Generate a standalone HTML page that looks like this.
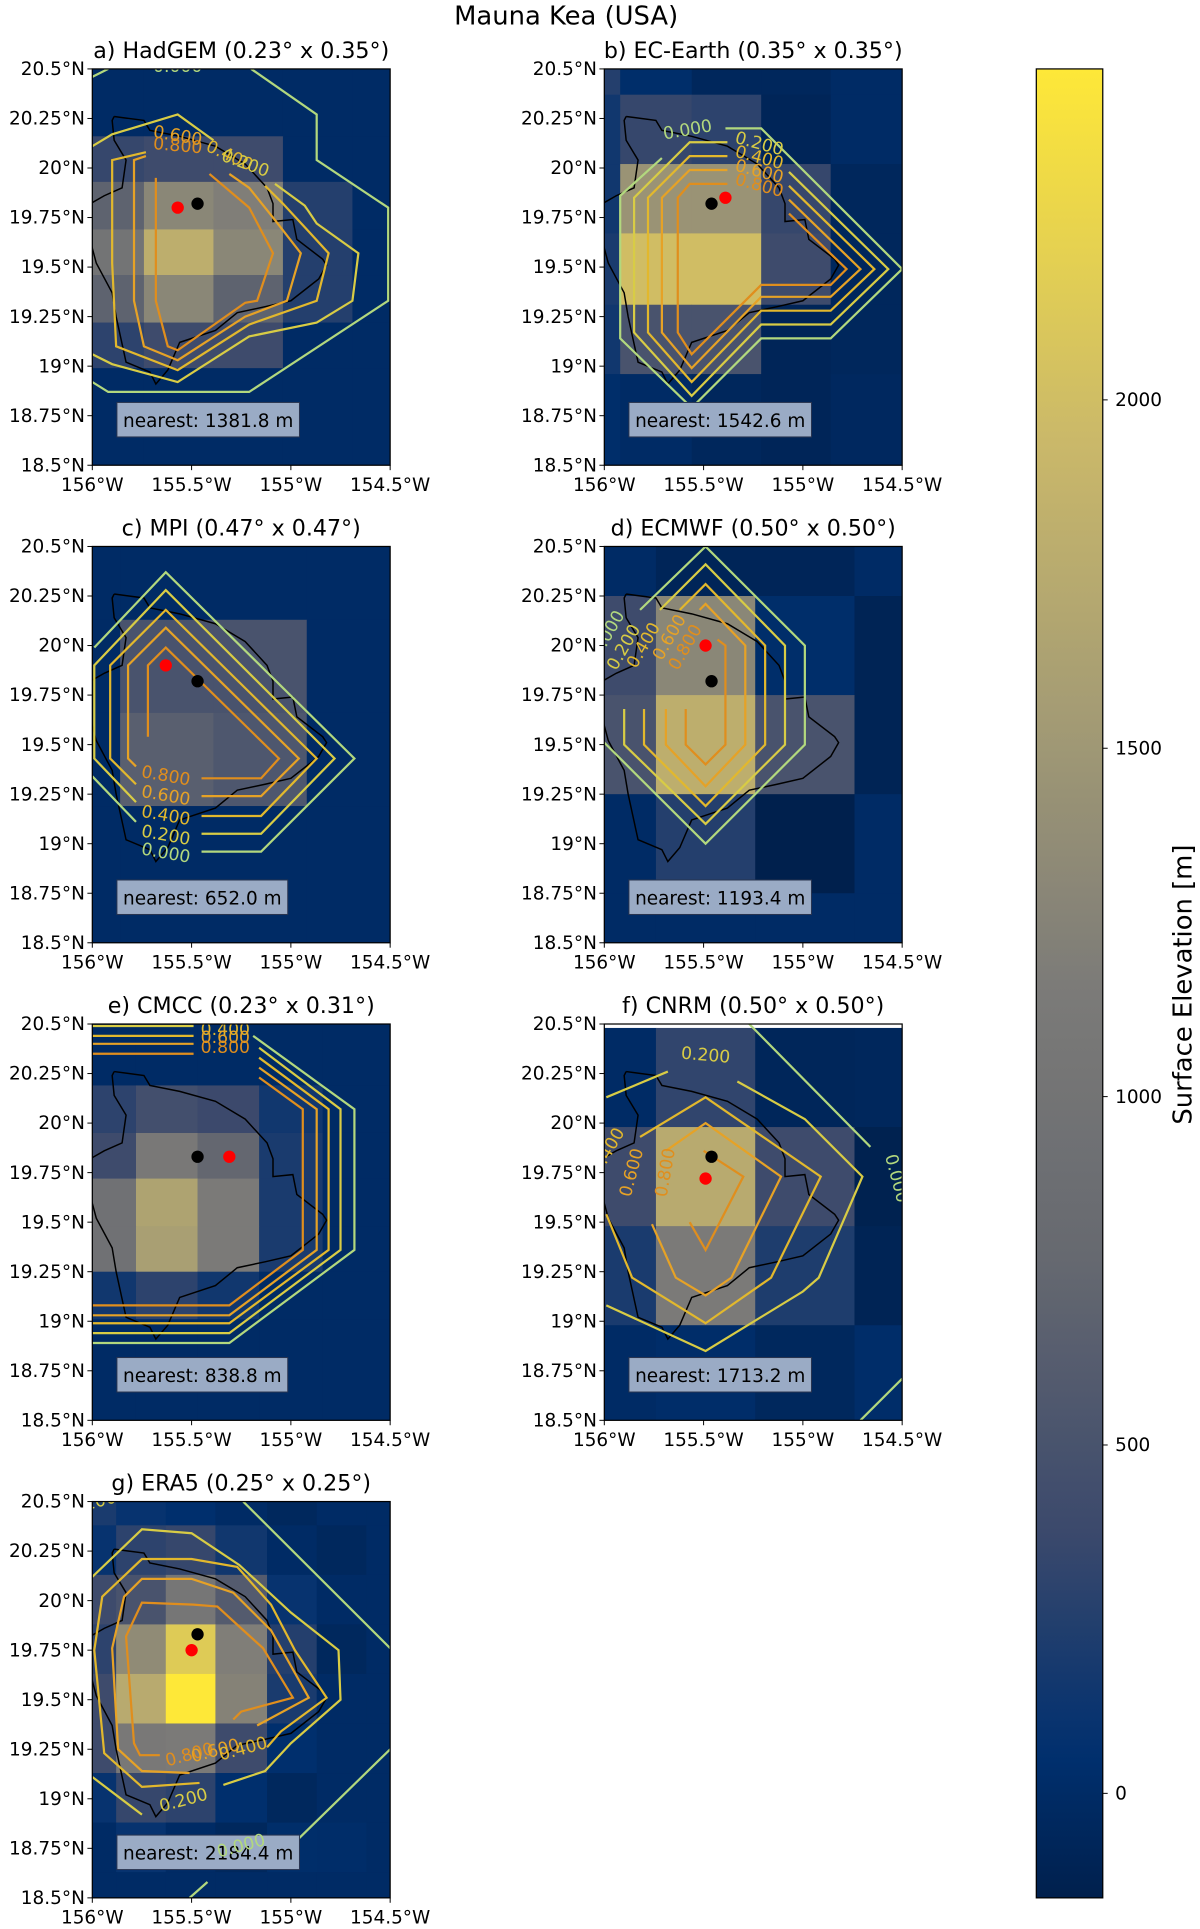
<!DOCTYPE html>
<html><head><meta charset="utf-8"><style>
html,body{margin:0;padding:0;background:#fff;}
svg{display:block;font-family:"DejaVu Sans","Liberation Sans",sans-serif;}
</style></head><body>
<svg id="fig" xmlns="http://www.w3.org/2000/svg" width="1200" height="1929" viewBox="0 0 975 1567.3" preserveAspectRatio="none">
<text x="460" y="20" font-size="21" text-anchor="middle">Mauna Kea (USA)</text>
</svg>
<script>
// ---- data ----
const latTicks = [20.5,20.25,20,19.75,19.5,19.25,19,18.75,18.5];
const latTickLabels = ['20.5°N','20.25°N','20°N','19.75°N','19.5°N','19.25°N','19°N','18.75°N','18.5°N'];
const lonTicks = [-156,-155.5,-155,-154.5];
const lonTickLabels = ['156°W','155.5°W','155°W','154.5°W'];
const cbarTicks = [0,500,1000,1500,2000];
const cbarMin = -150, cbarMax = 2475;
const contourLevels = [0,0.2,0.4,0.6,0.8];
const levelColors = ['#b2d87e','#d8cc45','#e2b82d','#e6a226','#e08e1d'];
const coast = [[-155.89,20.26],[-155.74,20.24],[-155.71,20.19],[-155.56,20.16],[-155.38,20.11],[-155.23,20.02],[-155.12,19.90],[-155.09,19.82],[-155.09,19.73],[-154.99,19.74],[-154.97,19.64],[-154.84,19.54],[-154.82,19.51],[-154.86,19.44],[-155.0,19.33],[-155.13,19.30],[-155.27,19.27],[-155.38,19.18],[-155.56,19.12],[-155.62,18.98],[-155.68,18.91],[-155.71,18.97],[-155.83,19.02],[-155.88,19.25],[-155.90,19.37],[-155.98,19.52],[-156.02,19.67],[-156.01,19.82],[-155.94,19.86],[-155.85,19.90],[-155.83,20.04],[-155.89,20.14],[-155.90,20.24],[-155.89,20.26]];

const hadgemLon = [-156,-155.74,-155.39,-155.04,-154.69,-154.5];
const hadgemLat = [20.5,20.16,19.93,19.69,19.46,19.22,18.99,18.5];
const hadgemElev = [[0,0,0,0,0],[350,400,400,0,0],[700,1300,1200,250,0],[1000,1800,1300,250,0],[700,1300,700,250,0],[300,400,400,0,0],[0,0,0,0,0]];
const hadgemContours = [
 [0,[[-156,20.46],[-155.92,20.5]]],
 [0,[[-155.20,20.5],[-154.87,20.27],[-154.87,20.04],[-154.51,19.80],[-154.51,19.33],[-155.21,18.87],[-155.92,18.87],[-156,18.92]]],
 [1,[[-156,20.11],[-155.90,20.17],[-155.57,20.27],[-155.39,20.14]]],
 [1,[[-155.08,19.92],[-154.93,19.81],[-154.87,19.72],[-154.66,19.57],[-154.69,19.33],[-154.87,19.22],[-155.21,19.15],[-155.57,18.92],[-155.90,19.01],[-156,19.06]]],
 [2,[[-155.73,20.08],[-155.90,20.04],[-155.90,19.52],[-155.88,19.10],[-155.57,18.98],[-155.21,19.21],[-154.87,19.33],[-154.81,19.57],[-154.92,19.69],[-155.04,19.82],[-155.13,19.91]]],
 [3,[[-155.73,20.06],[-155.79,20.04],[-155.79,19.33],[-155.74,19.10],[-155.57,19.03],[-155.23,19.25],[-155.02,19.33],[-154.95,19.57],[-155.09,19.75],[-155.21,19.90],[-155.31,19.97]]],
 [4,[[-155.68,19.95],[-155.68,19.33],[-155.62,19.10],[-155.57,19.08],[-155.23,19.32],[-155.17,19.33],[-155.09,19.57],[-155.21,19.80],[-155.41,19.97]]]];
const hadgemLabels = [[0,-155.57,20.51,0],[3,-155.57,20.16,10],[4,-155.57,20.11,5],[2,-155.31,20.06,25],[1,-155.23,20.02,20]];

const ecLon = [-156,-155.92,-155.56,-155.21,-154.86,-154.5];
const ecLat = [20.5,20.37,20.02,19.67,19.31,18.96,18.5];
const ecElev = [[250,30,-60,-60,0],[150,350,300,-80,0],[150,1450,1450,350,-60],[200,2000,2000,400,-60],[150,500,500,-80,-60],[30,0,-60,-80,-40]];
const ecContours = [
 [0,[[-155.39,20.20],[-155.21,20.20],[-154.50,19.49],[-154.86,19.14],[-155.21,19.14],[-155.56,18.79],[-155.92,19.14],[-155.92,19.86],[-155.71,20.05]]],
 [1,[[-155.38,20.13],[-155.57,20.13],[-155.85,19.85],[-155.85,19.17],[-155.56,18.85],[-155.21,19.21],[-154.86,19.21],[-154.57,19.49],[-155.07,19.98]]],
 [2,[[-155.38,20.06],[-155.57,20.06],[-155.78,19.85],[-155.78,19.17],[-155.56,18.92],[-155.21,19.28],[-154.86,19.28],[-154.64,19.49],[-155.07,19.91]]],
 [3,[[-155.38,19.99],[-155.57,19.99],[-155.71,19.85],[-155.71,19.17],[-155.56,18.99],[-155.21,19.35],[-154.86,19.35],[-154.71,19.49],[-155.07,19.84]]],
 [4,[[-155.38,19.92],[-155.57,19.92],[-155.63,19.85],[-155.63,19.17],[-155.56,19.06],[-155.21,19.41],[-154.86,19.41],[-154.78,19.49],[-155.07,19.77]]]];
const ecLabels = [[0,-155.58,20.19,-10],[1,-155.22,20.12,15],[2,-155.22,20.05,15],[3,-155.22,19.98,15],[4,-155.22,19.91,15]];

const mpiLon = [-156,-155.86,-155.39,-154.92,-154.5];
const mpiLat = [20.5,20.13,19.66,19.19,18.5];
const mpiElev = [[0,0,0,0],[0,500,500,0],[0,650,550,0],[0,0,0,0]];
const mpiContours = [
 [0,[[-155.99,19.99],[-155.63,20.37],[-154.68,19.43],[-155.15,18.96],[-155.45,18.96]]],
 [0,[[-156,19.34],[-155.78,19.11]]],
 [1,[[-155.78,19.21],[-155.99,19.43],[-155.99,19.90],[-155.63,20.28],[-154.78,19.43],[-155.15,19.05],[-155.45,19.05]]],
 [2,[[-155.78,19.30],[-155.91,19.43],[-155.91,19.90],[-155.63,20.18],[-154.87,19.43],[-155.15,19.14],[-155.45,19.14]]],
 [3,[[-155.78,19.39],[-155.82,19.43],[-155.82,19.90],[-155.63,20.09],[-154.96,19.43],[-155.15,19.24],[-155.45,19.24]]],
 [4,[[-155.72,19.54],[-155.72,19.90],[-155.63,19.99],[-155.06,19.43],[-155.15,19.33],[-155.45,19.33]]]];
const mpiLabels = [[4,-155.63,19.34,10],[3,-155.63,19.24,10],[2,-155.63,19.14,10],[1,-155.63,19.04,10],[0,-155.63,18.95,10]];

const ecmwfLon = [-156,-155.74,-155.24,-154.74,-154.5];
const ecmwfLat = [20.5,20.25,19.75,19.25,18.75,18.5];
const ecmwfElev = [[0,-80,-80,0],[400,1300,30,-100],[500,1800,500,-100],[0,250,-150,0],[0,0,0,0]];
const ecmwfContours = [
 [0,[[-155.82,20.18],[-155.49,20.5],[-154.99,20.0],[-154.99,19.50],[-155.49,19.00],[-155.99,19.50],[-156.05,19.56]]],
 [1,[[-155.72,20.18],[-155.49,20.41],[-155.09,20.0],[-155.09,19.50],[-155.49,19.10],[-155.90,19.50],[-155.90,19.68]]],
 [2,[[-155.62,20.18],[-155.49,20.31],[-155.19,20.0],[-155.19,19.50],[-155.49,19.19],[-155.80,19.50],[-155.80,19.68]]],
 [3,[[-155.52,20.18],[-155.49,20.21],[-155.29,20.0],[-155.29,19.50],[-155.49,19.29],[-155.69,19.50],[-155.69,19.68]]],
 [4,[[-155.43,20.03],[-155.39,20.0],[-155.39,19.50],[-155.49,19.40],[-155.59,19.50],[-155.59,19.68]]]];
const ecmwfLabels = [[0,-155.98,20.06,-60],[1,-155.90,19.99,-60],[2,-155.80,20.0,-60],[3,-155.67,20.04,-60],[4,-155.59,19.99,-60]];

const cmccLon = [-156,-155.78,-155.47,-155.16,-154.84,-154.5];
const cmccLat = [20.5,20.19,19.95,19.72,19.48,19.25,19.01,18.5];
const cmccElev = [[0,0,0,0,0],[300,450,380,150,0],[400,1100,750,200,0],[950,1650,1150,200,0],[950,1600,1150,200,0],[150,300,150,0,0],[0,0,0,0,0]];
const cmccContours = [
 [0,[[-156.05,20.54],[-155.49,20.54]]],[0,[[-155.19,20.44],[-154.68,20.07],[-154.68,19.36],[-155.31,18.89],[-156.05,18.89]]],
 [1,[[-156.05,20.49],[-155.49,20.49]]],[1,[[-155.16,20.38],[-154.75,20.07],[-154.75,19.36],[-155.31,18.94],[-156.05,18.94]]],
 [2,[[-156.05,20.44],[-155.49,20.44]]],[2,[[-155.16,20.33],[-154.81,20.07],[-154.81,19.36],[-155.31,18.99],[-156.05,18.99]]],
 [3,[[-156.05,20.40],[-155.49,20.40]]],[3,[[-155.16,20.28],[-154.87,20.07],[-154.87,19.36],[-155.31,19.03],[-156.05,19.03]]],
 [4,[[-156.05,20.35],[-155.49,20.35]]],[4,[[-155.16,20.23],[-154.94,20.07],[-154.94,19.36],[-155.31,19.08],[-156.05,19.08]]]];
const cmccLabels = [[2,-155.33,20.47,0],[3,-155.33,20.43,0],[4,-155.33,20.38,0]];

const cnrmLon = [-156,-155.74,-155.24,-154.74,-154.5];
const cnrmLat = [20.48,19.98,19.48,18.98,18.5];
const cnrmElev = [[0,320,-70,-60],[400,1750,400,-130],[200,1150,220,-100],[0,20,-50,20]];
const cnrmContours = [
 [0,[[-155.27,20.50],[-154.66,19.88]]],[0,[[-154.71,18.50],[-154.50,18.71]]],
 [1,[[-155.99,20.13],[-155.68,20.26]]],
 [1,[[-155.33,20.21],[-154.99,20.02],[-154.70,19.73],[-154.92,19.22],[-155.0,19.15],[-155.49,18.85],[-155.99,19.08]]],
 [2,[[-155.82,19.93],[-155.49,20.13],[-154.91,19.73],[-155.16,19.22],[-155.49,18.99],[-155.86,19.22],[-155.99,19.54]]],
 [3,[[-155.69,19.86],[-155.49,20.0],[-155.11,19.73],[-155.36,19.22],[-155.49,19.13],[-155.64,19.22],[-155.76,19.49]]],
 [4,[[-155.50,19.86],[-155.30,19.73],[-155.49,19.36],[-155.57,19.50]]]];
const cnrmLabels = [[1,-155.49,20.34,5],[3,-155.86,19.75,-75],[4,-155.69,19.75,-80],[0,-154.53,19.72,75],[2,-155.98,19.86,-60]];

const era5Lon = [-156,-155.88,-155.63,-155.38,-155.12,-154.87,-154.62,-154.5];
const era5Lat = [20.5,20.38,20.13,19.88,19.63,19.38,19.13,18.88,18.63,18.5];
const era5Elev = [[200,100,50,0,-50,0,0],[100,300,350,150,0,-50,0],[400,500,1050,600,100,0,0],[300,1350,2150,1200,250,-50,0],[400,1750,2475,1250,200,0,0],[400,1100,1150,400,50,0,0],[100,350,300,50,-50,0,0],[0,100,0,-50,30,20,0],[0,0,0,0,0,0,0]];
const era5Contours = [
 [0,[[-155.24,20.5],[-154.50,19.76]]],[0,[[-154.50,19.25],[-154.97,18.79]]],[0,[[-155.42,18.58],[-155.51,18.50]]],
 [1,[[-155.75,18.92],[-156,19.11]]],
 [1,[[-155.34,19.07],[-155.13,19.14],[-155.0,19.28],[-154.75,19.50],[-154.76,19.75],[-155.0,19.94],[-155.26,20.18],[-155.50,20.34],[-155.75,20.36],[-156,20.12]]],
 [2,[[-155.12,19.26],[-155.05,19.34],[-154.82,19.51],[-154.98,19.75],[-155.10,19.98],[-155.27,20.17],[-155.50,20.21],[-155.75,20.21],[-155.95,20.02],[-155.99,19.75],[-155.94,19.23],[-155.75,19.06],[-155.46,19.08]]],
 [3,[[-155.17,19.37],[-154.91,19.51],[-155.10,19.85],[-155.29,20.04],[-155.50,20.11],[-155.75,20.11],[-155.84,20.02],[-155.90,19.76],[-155.87,19.25],[-155.75,19.14],[-155.51,19.13]]],
 [4,[[-155.29,19.40],[-155.25,19.44],[-154.99,19.51],[-155.14,19.76],[-155.25,19.86],[-155.37,19.97],[-155.49,19.98],[-155.75,19.99],[-155.83,19.82],[-155.79,19.28],[-155.76,19.22],[-155.66,19.22]]]];
const era5Labels = [[4,-155.51,19.22,-15],[3,-155.38,19.24,-15],[2,-155.24,19.25,-15],[1,-155.54,18.99,-15],[0,-155.25,18.76,-15],[1,-156.0,20.49,-15]];

const panelTitles = ['a) HadGEM (0.23° x 0.35°)','b) EC-Earth (0.35° x 0.35°)','c) MPI (0.47° x 0.47°)','d) ECMWF (0.50° x 0.50°)','e) CMCC (0.23° x 0.31°)','f) CNRM (0.50° x 0.50°)','g) ERA5 (0.25° x 0.25°)'];
const nearestValues = [1381.8,1542.6,652.0,1193.4,838.8,1713.2,2184.4];
const obsPoints = [[-155.47,19.82],[-155.46,19.82],[-155.47,19.82],[-155.46,19.82],[-155.47,19.83],[-155.46,19.83],[-155.47,19.83]];
const gridPoints = [[-155.57,19.80],[-155.39,19.85],[-155.63,19.90],[-155.49,20.0],[-155.31,19.83],[-155.49,19.72],[-155.50,19.75]];

const panels = [
 {lon:hadgemLon,lat:hadgemLat,elev:hadgemElev,con:hadgemContours,lab:hadgemLabels},
 {lon:ecLon,lat:ecLat,elev:ecElev,con:ecContours,lab:ecLabels},
 {lon:mpiLon,lat:mpiLat,elev:mpiElev,con:mpiContours,lab:mpiLabels},
 {lon:ecmwfLon,lat:ecmwfLat,elev:ecmwfElev,con:ecmwfContours,lab:ecmwfLabels},
 {lon:cmccLon,lat:cmccLat,elev:cmccElev,con:cmccContours,lab:cmccLabels},
 {lon:cnrmLon,lat:cnrmLat,elev:cnrmElev,con:cnrmContours,lab:cnrmLabels},
 {lon:era5Lon,lat:era5Lat,elev:era5Elev,con:era5Contours,lab:era5Labels}];

// ---- rendering ----
const NS='http://www.w3.org/2000/svg';
const svg=document.getElementById('fig');
function mk(tag,attrs,parent){const e=document.createElementNS(NS,tag);for(const k in attrs)e.setAttribute(k,attrs[k]);(parent||svg).appendChild(e);return e;}
const cmapStops=[[0,[0,32,77]],[0.08,[0,48,111]],[0.2,[59,73,108]],[0.35,[102,105,112]],[0.5,[124,123,120]],[0.65,[165,156,116]],[0.8,[203,185,105]],[1,[254,232,56]]];
function cividis(v){let t=(v-cbarMin)/(cbarMax-cbarMin);t=Math.max(0,Math.min(1,t));
 for(let i=1;i<cmapStops.length;i++){if(t<=cmapStops[i][0]){const a=cmapStops[i-1],b=cmapStops[i];const f=(t-a[0])/(b[0]-a[0]);
 const c=a[1].map((x,j)=>Math.round(x+(b[1][j]-x)*f));return `rgb(${c[0]},${c[1]},${c[2]})`;}}return 'rgb(254,232,56)';}
const colX=[75,491],rowY=[56,444,832,1220],W=242,H=322;
const defs=mk('defs',{});

panels.forEach((p,i)=>{
 const x0=colX[i%2],y0=rowY[Math.floor(i/2)];
 const X=lon=>x0+(lon+156)/1.5*W, Y=lat=>y0+(20.5-lat)/2*H;
 const g=mk('g',{});
 
 
 const cp=mk('clipPath',{id:'cp'+i},defs);mk('rect',{x:x0,y:y0,width:W,height:H},cp);
 const plot=mk('g',{'clip-path':`url(#cp${i})`},g);
 mk('rect',{x:x0,y:y0,width:W,height:H,fill:'#fff'},plot);
 const bg=mk('rect',{x:x0,y:Y(p.lat[0]),width:W,height:H,fill:cividis(0)},plot);
 
 
 p.elev.forEach((row,r)=>row.forEach((v,c)=>{
  const cell=mk('rect',{x:X(p.lon[c]),y:Y(p.lat[r]),width:X(p.lon[c+1])-X(p.lon[c])+0.3,height:Y(p.lat[r+1])-Y(p.lat[r])+0.3,fill:cividis(v)},plot);
  
  
 }));
 const cl=mk('polyline',{points:coast.map(q=>X(q[0])+','+Y(q[1])).join(' '),fill:'none',stroke:'#000','stroke-width':1.2},plot);
 
 
 p.con.forEach(([lv,pts])=>{
  const ln=mk('polyline',{points:pts.map(q=>X(q[0])+','+Y(q[1])).join(' '),fill:'none',stroke:levelColors[lv],'stroke-width':1.8},plot);
  
  
 });
 const ob=mk('circle',{cx:X(obsPoints[i][0]),cy:Y(obsPoints[i][1]),r:5,fill:'#000'},plot);
 
 
 const gp=mk('circle',{cx:X(gridPoints[i][0]),cy:Y(gridPoints[i][1]),r:5,fill:'#f00'},plot);
 
 
 const box=mk('rect',{x:x0+20,y:y0+271,width:150,height:28,fill:'#9aabc5',stroke:'#2a3550','stroke-width':0.8},plot);
 
 
 const nt=mk('text',{x:x0+25,y:y0+291,'font-size':15,fill:'#000'},plot);
 nt.textContent='nearest: '+nearestValues[i].toFixed(1)+' m';
 
 
 try{box.setAttribute('width',nt.getComputedTextLength()+10);}catch(e){}
 p.lab.forEach(([lv,lo,la,rot])=>{
  const t=mk('text',{x:X(lo),y:Y(la),fill:levelColors[lv],'font-size':14,'text-anchor':'middle','dominant-baseline':'middle',transform:`rotate(${rot} ${X(lo)} ${Y(la)})`},plot);
  t.textContent=contourLevels[lv].toFixed(3);
  
  
 });
 mk('rect',{x:x0,y:y0,width:W,height:H,fill:'none',stroke:'#000','stroke-width':1},g);
 latTicks.forEach((la,k)=>{
  mk('line',{x1:x0-4,x2:x0,y1:Y(la),y2:Y(la),stroke:'#000','stroke-width':0.8},g);
  const t=mk('text',{x:x0-6,y:Y(la)+5,'font-size':15,'text-anchor':'end'},g);
  t.textContent=latTickLabels[k];
  
  
 });
 lonTicks.forEach((lo,k)=>{
  mk('line',{x1:X(lo),x2:X(lo),y1:y0+H,y2:y0+H+4,stroke:'#000','stroke-width':0.8},g);
  const t=mk('text',{x:X(lo),y:y0+H+21,'font-size':15,'text-anchor':'middle'},g);
  t.textContent=lonTickLabels[k];
  
  
 });
 const tt=mk('text',{x:x0+W/2,y:y0-9,'font-size':18,'text-anchor':'middle'},g);
 tt.textContent=panelTitles[i];
 
 
});

// colorbar
const cbX=842,cbTop=56,cbBot=1542,cbW=54;
const cbY=v=>cbBot-(v-cbarMin)/(cbarMax-cbarMin)*(cbBot-cbTop);
const grad=mk('linearGradient',{id:'cbg',x1:0,y1:1,x2:0,y2:0},defs);
for(let k=0;k<=40;k++){const v=cbarMin+(cbarMax-cbarMin)*k/40;mk('stop',{offset:k/40,'stop-color':cividis(v)},grad);}
const cb=mk('rect',{x:cbX,y:cbTop,width:cbW,height:cbBot-cbTop,fill:'url(#cbg)',stroke:'#000','stroke-width':1});


cbarTicks.forEach(v=>{
 mk('line',{x1:cbX+cbW,x2:cbX+cbW+4,y1:cbY(v),y2:cbY(v),stroke:'#000','stroke-width':0.8});
 const t=mk('text',{x:cbX+cbW+10,y:cbY(v)+5,'font-size':15});
 t.textContent=v;
 
 
});
const cl=mk('text',{x:968,y:800,'font-size':21,'text-anchor':'middle',transform:'rotate(-90 968 800)'});
cl.textContent='Surface Elevation [m]';


</script>
</body></html>
